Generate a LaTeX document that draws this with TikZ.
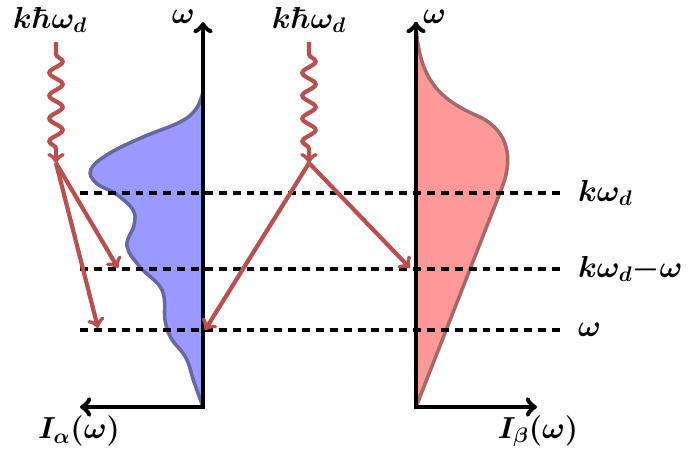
\documentclass[tikz,border=0pt]{standalone}
\usepackage{amsmath}
\usetikzlibrary{decorations.pathmorphing}
\definecolor{photonred}{RGB}{184,80,80}
\definecolor{alphafill}{RGB}{153,153,255}
\definecolor{alphaline}{RGB}{104,104,160}
\definecolor{betafill}{RGB}{255,153,153}
\definecolor{betaline}{RGB}{165,105,105}
\newcommand{\labelsize}{\LARGE}
\newcommand{\linewd}{2.4pt}
\newcommand{\photonlabel}{$k\hbar\omega_d$}
\newcommand{\alphacurve}{plot[smooth,tension=0.65] coordinates {(203,92) (196,109) (180,122) (143,137) (110,153) (91,169) (96,183) (116,194) (133,210) (134,225) (127,246) (140,267) (162,290) (165,320) (171,338) (186,358) (194,382) (203,407)}}
\newcommand{\betacurve}{(416,22) .. controls (418,80) and (440,100) .. (480,117) .. controls (510,132) and (512,160) .. (503,185) -- (416,407)}

\begin{document}
\begin{tikzpicture}[x=0.02cm,y=-0.02cm,>=to,
  axis/.style={line width=2.8pt,<->},
  level/.style={dash pattern=on 4.5pt off 3.4pt,line width=2pt},
  photon/.style={photonred,line width=\linewd,->,decorate,
    decoration={snake,amplitude=3.8pt,segment length=13pt,pre length=7pt,post length=5pt}},
  emit/.style={photonred,line width=\linewd,->},
  lbl/.style={font=\labelsize\boldmath,inner sep=1pt}]
\useasboundingbox (0,0) rectangle (696,456);

% Spectra
\fill[alphafill] \alphacurve -- cycle;
\draw[alphaline,line width=2pt] \alphacurve;
\fill[betafill] \betacurve -- cycle;
\draw[betaline,line width=2pt] \betacurve;

% Energy levels
\node (l1) [lbl,anchor=west] at (576,193) {$k\omega_d$};
\node (l2) [lbl,anchor=west] at (576,269) {$k\omega_d{-}\omega$};
\node (l3) [lbl,anchor=west] at (576,330) {$\omega$};
\coordinate (l1a) at (80,193);
\coordinate (l2a) at (80,269);
\coordinate (l3a) at (80,330);
\draw[level] (l1a) -- (565,193);
\draw[level] (l2a) -- (565,269);
\draw[level] (l3a) -- (565,330);

% Axes
\coordinate (oA) at (203,407);
\coordinate (oB) at (416,407);
\draw[axis] (80,407) -- (oA) -- (203,22);
\draw[axis] (537,407) -- (oB) -- (416,22);
\node (wA) [lbl,anchor=east] at (197,17) {$\omega$};
\node (wB) [lbl,anchor=west] at (421,17) {$\omega$};
\node (IA) [lbl] at (79,431) {$I_\alpha(\omega)$};
\node (IB) [lbl] at (538,431) {$I_\beta(\omega)$};

% Incoming photons
\node (kA) [lbl] at (50,20) {\photonlabel};
\node (kB) [lbl] at (309,20) {\photonlabel};
\coordinate (pA) at (56,42);
\coordinate (pB) at (309,42);
\coordinate (vA) at (56,163);
\coordinate (vB) at (309,163);
\draw[photon] (pA) -- (vA);
\draw[photon] (pB) -- (vB);

% Emitted photons
\coordinate (eA1) at (118,268);
\coordinate (eA2) at (98,328);
\coordinate (eB1) at (410,268);
\coordinate (eB2) at (205,330);
\draw[emit] (vA) -- (eA1);
\draw[emit] (vA) -- (eA2);
\draw[emit] (vB) -- (eB1);
\draw[emit] (vB) -- (eB2);

\end{tikzpicture}
\end{document}
